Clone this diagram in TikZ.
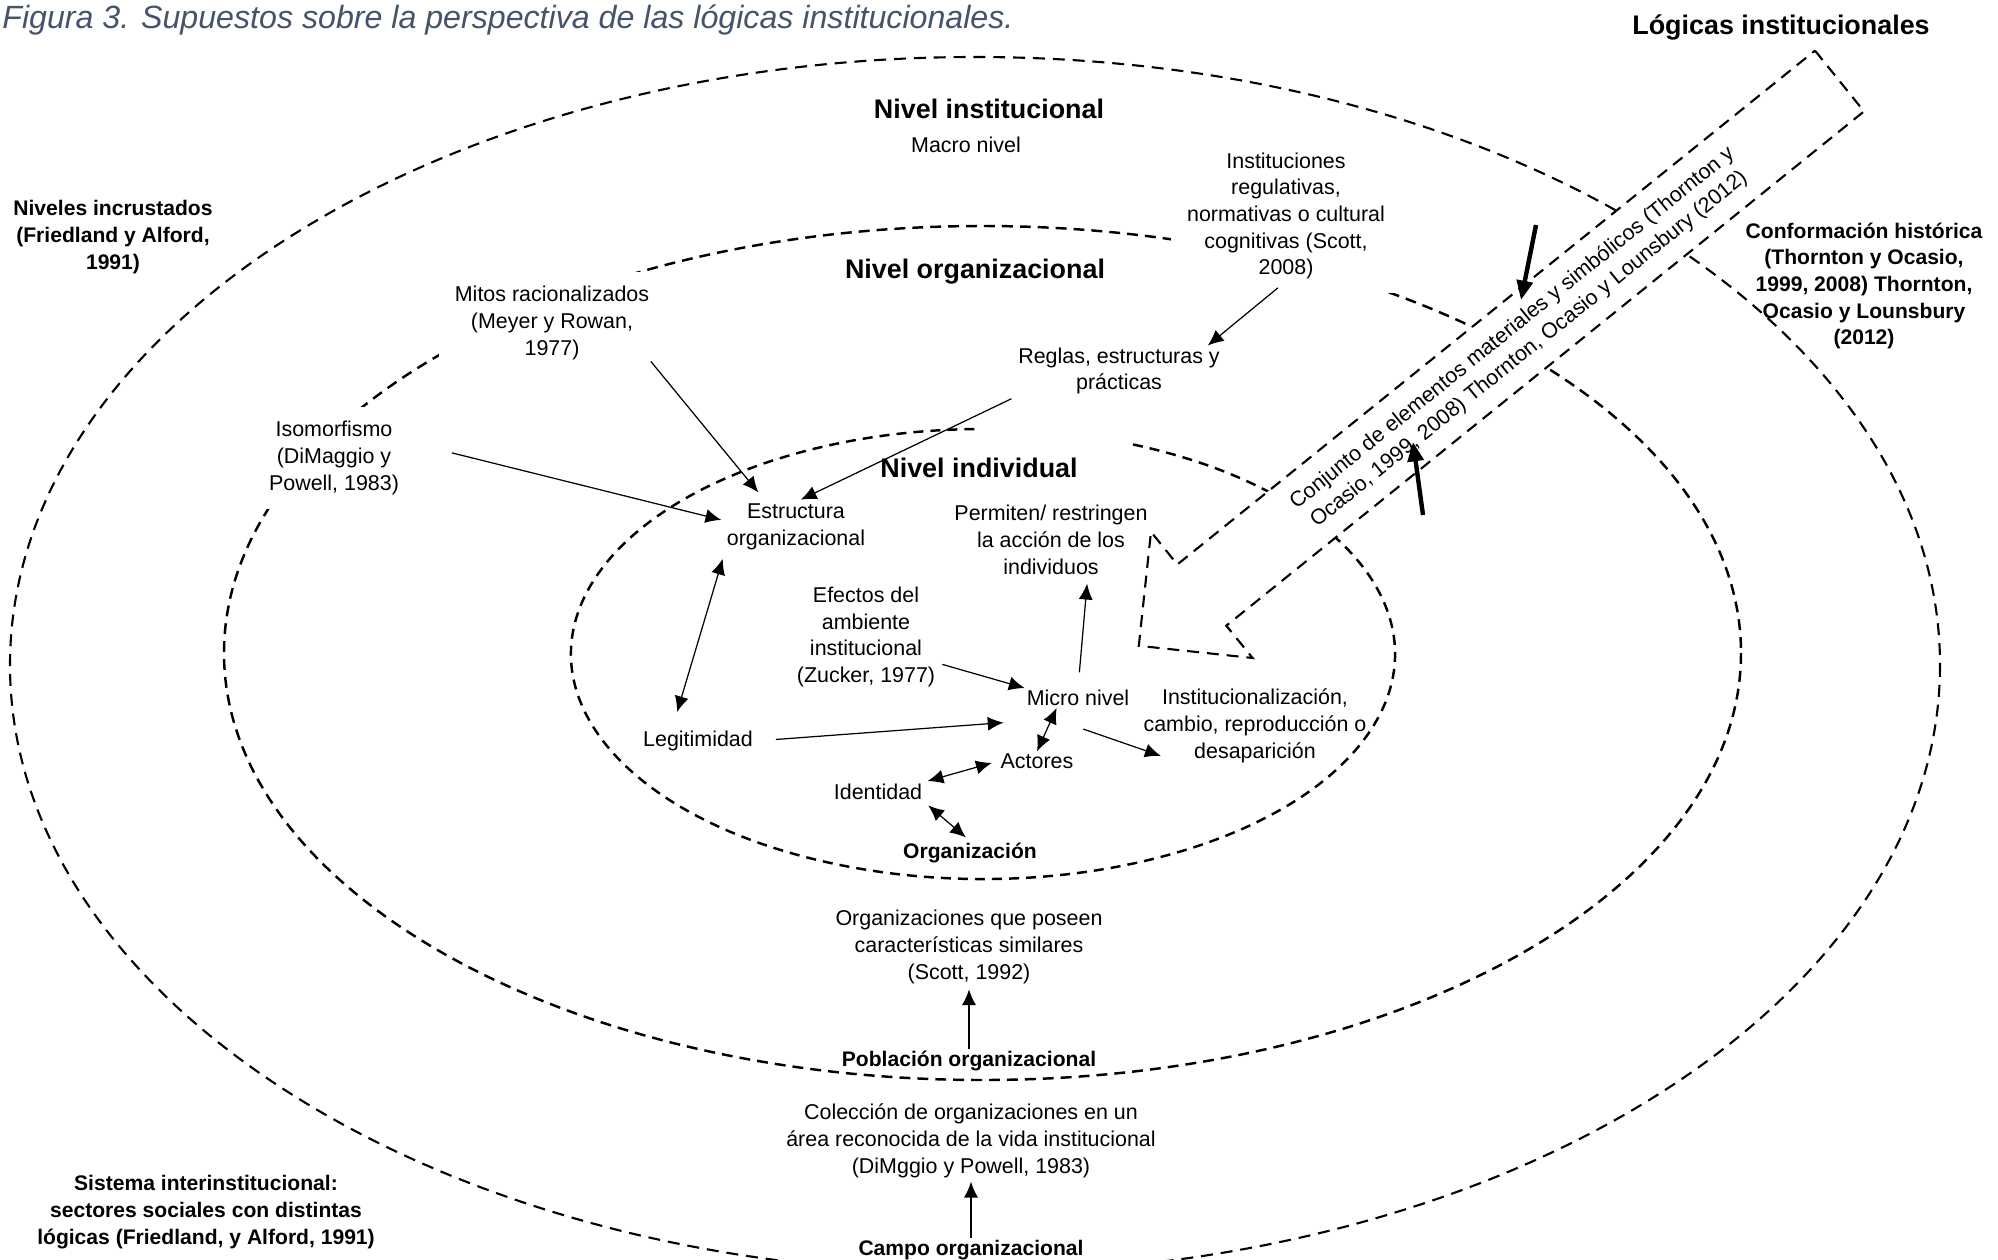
\documentclass[tikz,border=0pt]{standalone}
\usepackage{fontspec}
\setmainfont{Liberation Sans}
\usetikzlibrary{arrows.meta}
\definecolor{captc}{RGB}{68,84,106}
\tikzstyle{lbl}=[align=center,inner sep=1pt,font=\fontsize{12.2}{15.2}\selectfont]
\tikzstyle{blbl}=[align=center,inner sep=1pt,font=\fontsize{12}{15.2}\selectfont\bfseries]
\tikzstyle{lvltitle}=[inner sep=1pt,font=\fontsize{15.3}{18}\selectfont\bfseries]
\tikzstyle{gapbox}=[fill=white,inner xsep=9pt,inner ysep=8pt,outer xsep=-8pt,outer ysep=-7pt]
\tikzstyle{outerlvl}=[line width=1.2pt,dash pattern=on 6.8pt off 4.5pt]
\tikzstyle{midlvl}=[line width=1.4pt,dash pattern=on 6.2pt off 4pt]
\tikzstyle{innerlvl}=[line width=1.4pt,dash pattern=on 5.7pt off 4pt]
\tikzstyle{blockarr}=[line width=1.2pt,dash pattern=on 6.8pt off 4.5pt,fill=white]
\tikzstyle{conn}=[line width=0.7pt]
\tikzstyle{boldarr}=[line width=2.5pt,-{Triangle[length=11pt,width=9pt]}]

\begin{document}
\begin{tikzpicture}[x=0.2mm,y=-0.2mm,>={Latex[length=9pt,width=8pt]}]
            \useasboundingbox (0,0) rectangle (1998,1260);

            % LEVELS PART

            \draw[outerlvl] (975,665) ellipse [x radius=965,y radius=608];
            \draw[midlvl] (982.5,653) ellipse [x radius=758.5,y radius=427];
            \draw[innerlvl] (983,654) ++(291.35:412 and 225) arc [start angle=291.35,end angle=629.16,x radius=412,y radius=225];

            % LOGICS ARROW PART

            \draw[blockarr] (1815,50.6) -- (1864,111.4) -- (1226.3,625.7) -- (1252.6,658)
                -- (1138.8,645.8) -- (1151,531.8) -- (1177.3,564.5) -- cycle;
            \node[lbl,rotate=38.9] (conjunto) at (1520.7,339) {Conjunto de elementos materiales y simbólicos (Thornton y\\Ocasio, 1999, 2008) Thornton, Ocasio y Lounsbury (2012)};

            % TITLES PART

            \node[anchor=west,inner sep=0pt,text=captc,font=\fontsize{18.3}{22}\selectfont\itshape] (caption) at (2,20) {Figura 3. Supuestos sobre la perspectiva de las lógicas institucionales.};
            \node[lvltitle] (logicas) at (1781,27) {Lógicas institucionales};
            \node[blbl] (niveles) at (113,237) {Niveles incrustados\\(Friedland y Alford,\\1991)};
            \node[blbl] (conform) at (1864,286) {Conformación histórica\\(Thornton y Ocasio,\\1999, 2008) Thornton,\\Ocasio y Lounsbury\\(2012)};
            \node[blbl] (sistema) at (206,1212) {Sistema interinstitucional:\\sectores sociales con distintas\\lógicas (Friedland, y Alford, 1991)};

            % INSTITUTIONAL PART

            \node[lvltitle] (nivinst) at (989,109) {Nivel institucional};
            \node[lbl] (macro) at (966,145) {Macro nivel};
            \node[lbl,gapbox] (instit) at (1286,216) {Instituciones\\regulativas,\\normativas o cultural\\cognitivas (Scott,\\2008)};

            % ORGANIZATIONAL PART

            \node[lvltitle] (nivorg) at (975,272) {Nivel organizacional};
            \node[lbl,gapbox] (mitos) at (552,323) {Mitos racionalizados\\(Meyer y Rowan,\\1977)};
            \node[lbl] (reglas) at (1119,371) {Reglas, estructuras y\\prácticas};
            \node[lbl,gapbox] (isomorf) at (334,458) {Isomorfismo\\(DiMaggio y\\Powell, 1983)};
            \node[lbl] (orgsim) at (969,947) {Organizaciones que poseen\\características similares\\(Scott, 1992)};
            \node[blbl] (poblacion) at (969,1061) {Población organizacional};
            \node[lbl] (coleccion) at (971,1141) {Colección de organizaciones en un\\área reconocida de la vida institucional\\(DiMggio y Powell, 1983)};
            \node[blbl] (campo) at (971,1250) {Campo organizacional};

            % INDIVIDUAL PART

            \node[lvltitle] (nivind) at (979,468) {Nivel individual};
            \node[lbl] (estruct) at (796,527) {Estructura\\organizacional};
            \node[lbl] (permiten) at (1051,540) {Permiten/ restringen\\la acción de los\\individuos};
            \node[lbl] (efectos) at (866,637) {Efectos del\\ambiente\\institucional\\(Zucker, 1977)};
            \node[lbl] (micro) at (1078,698) {Micro nivel};
            \node[lbl] (instcambio) at (1255,726) {Institucionalización,\\cambio, reproducción o\\desaparición};
            \node[lbl] (legit) at (698,741) {Legitimidad};
            \node[lbl] (actores) at (1037,761) {Actores};
            \node[lbl] (ident) at (878,792) {Identidad};
            \node[blbl] (orgz) at (970,853) {Organización};

            % Connections of levels

            \path[->,conn] (instit.south) edge[shorten <=6pt] (reglas.16);
            \path[->,conn] (mitos.south east) edge[shorten >=7pt] (estruct.140);
            \path[->,conn] (reglas.south west) edge[shorten <=3pt,shorten >=3pt] (estruct.north);
            \path[->,conn] (isomorf.15) edge[shorten <=30pt,shorten >=2pt] (estruct.175);
            \path[->,conn] (poblacion.north) edge[shorten >=2pt] (orgsim.south);
            \path[->,conn] (campo.north) edge[shorten >=1pt] (coleccion.south);

            % Connections inside the individual level

            \path[<->,conn] (estruct.south west) edge[shorten <=4pt,shorten >=10pt] (legit.155);
            \path[->,conn] (efectos.-20) edge[shorten <=3pt] (micro.north west);
            \path[->,conn] (micro.north) edge[shorten <=9pt,shorten >=4pt] (permiten.-45);
            \path[->,conn] (legit.east) edge[shorten <=12pt] ([xshift=-12pt,yshift=-14pt]micro.west);
            \path[<->,conn] (micro.205) edge (actores.north);
            \path[<->,conn] (actores.west) edge[shorten <=4pt,shorten >=2pt] (ident.north east);
            \path[<->,conn] (ident.south east) edge[shorten <=3pt,shorten >=3pt] (orgz.north);
            \path[->,conn] ([xshift=3pt,yshift=-12pt]micro.south) edge ([xshift=11pt,yshift=-17pt]instcambio.west);

            % HISTORY ARROWS

            \coordinate (histA) at (1536,225);
            \coordinate (histB) at (1521,300);
            \coordinate (matA) at (1423,515);
            \coordinate (matB) at (1413,442);
            \draw[boldarr] (histA) -- (histB);
            \draw[boldarr] (matA) -- (matB);

\end{tikzpicture}
\end{document}
